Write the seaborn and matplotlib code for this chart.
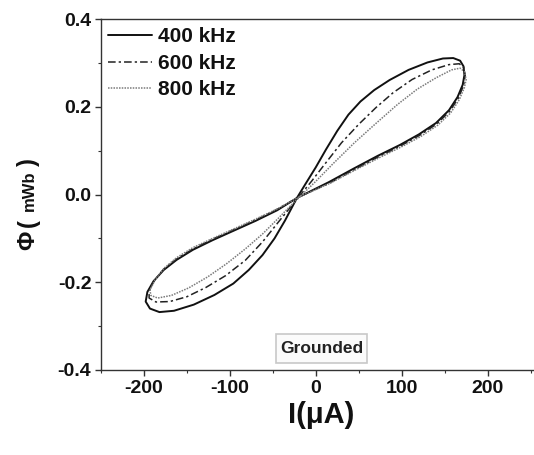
import matplotlib
matplotlib.use("Agg")
import matplotlib.pyplot as plt
import seaborn as sns
import pandas as pd
from matplotlib.ticker import MultipleLocator
from matplotlib.patches import Rectangle

# ---- data ----
I_400 = [-22, -12, 0, 12, 25, 38, 52, 68, 86, 108, 130, 148, 160, 168, 172, 173,
         171, 165, 155, 140, 120, 98, 72, 45, 15, -22,
         -45, -70, -95, -120, -143, -162, -177, -189, -196,
         -198, -193, -182, -165, -142, -118, -96, -78, -62, -48, -36, -22]
Phi_400 = [-0.008, 0.024, 0.062, 0.103, 0.145, 0.182, 0.212, 0.238, 0.261, 0.284, 0.301, 0.310, 0.311, 0.305, 0.292, 0.272,
           0.250, 0.222, 0.192, 0.163, 0.137, 0.113, 0.088, 0.060, 0.028, -0.008,
           -0.036, -0.060, -0.082, -0.104, -0.126, -0.149, -0.172, -0.198, -0.222,
           -0.244, -0.260, -0.268, -0.265, -0.251, -0.229, -0.203, -0.172, -0.138, -0.100, -0.060, -0.008]

I_600 = [-20, -5, 10, 30, 50, 70, 90, 112, 135, 155, 167, 172, 174,
         172, 166, 156, 141, 121, 99, 73, 46, 16, -20,
         -45, -70, -95, -120, -143, -162, -177, -188, -194,
         -194, -186, -170, -150, -128, -105, -82, -62, -44, -30, -20]
Phi_600 = [-0.006, 0.030, 0.068, 0.118, 0.160, 0.198, 0.232, 0.262, 0.284, 0.296, 0.298, 0.290, 0.272,
           0.248, 0.220, 0.190, 0.161, 0.135, 0.111, 0.086, 0.058, 0.026, -0.006,
           -0.034, -0.058, -0.080, -0.102, -0.124, -0.147, -0.170, -0.196, -0.220,
           -0.236, -0.245, -0.244, -0.233, -0.212, -0.185, -0.150, -0.108, -0.064, -0.030, -0.006]

I_800 = [-18, 0, 20, 45, 70, 95, 118, 140, 158, 168, 173, 175,
         173, 167, 157, 142, 122, 100, 74, 47, 17, -18,
         -45, -70, -95, -120, -143, -162, -176, -187, -193,
         -192, -184, -168, -148, -126, -104, -82, -62, -44, -30, -18]
Phi_800 = [-0.004, 0.030, 0.070, 0.118, 0.162, 0.205, 0.240, 0.266, 0.284, 0.288, 0.280, 0.262,
           0.244, 0.216, 0.186, 0.158, 0.132, 0.109, 0.084, 0.057, 0.026, -0.004,
           -0.033, -0.056, -0.078, -0.100, -0.121, -0.144, -0.167, -0.194, -0.218,
           -0.230, -0.236, -0.230, -0.213, -0.188, -0.158, -0.124, -0.090, -0.055, -0.027, -0.004]

series_labels = ["400 kHz", "600 kHz", "800 kHz"]
x_ticks = [-200, -100, 0, 100, 200]
y_ticks = [-0.4, -0.2, 0.0, 0.2, 0.4]

# ---- style ----
sns.set_theme(style="white")
plt.rcParams["font.family"] = ["Liberation Sans", "DejaVu Sans"]
plt.rcParams["font.weight"] = "bold"
plt.rcParams["axes.unicode_minus"] = False

W, H = 534, 455
fig = plt.figure(figsize=(W / 100, H / 100), dpi=100)
ax = fig.add_axes([101 / W, 1 - 370 / H, 1 - 101 / W, (370 - 19) / H])

styles = [
    dict(color="#111111", linestyle="-", linewidth=1.4),
    dict(color="#222222", linestyle=(0, (5, 2, 1.5, 2)), linewidth=1.1),
    dict(color="#7a7a7a", linestyle=(0, (1, 0.8)), linewidth=1.1),
]
data = [(I_400, Phi_400), (I_600, Phi_600), (I_800, Phi_800)]
for (xs, ys), lab, st in zip(data, series_labels, styles):
    df = pd.DataFrame({"I": xs, "Phi": ys})
    sns.lineplot(data=df, x="I", y="Phi", sort=False, estimator=None, ax=ax,
                 label=lab, **st)

ax.set_xlim(-250, 254)
ax.set_ylim(-0.4, 0.4)
ax.set_xticks(x_ticks)
ax.set_yticks(y_ticks)
ax.set_xticklabels([f"{v}" for v in x_ticks])
ax.set_yticklabels([f"{v:.1f}" for v in y_ticks])
ax.xaxis.set_minor_locator(MultipleLocator(50))
ax.yaxis.set_minor_locator(MultipleLocator(0.1))
ax.tick_params(axis="both", which="major", direction="out", length=4, width=1,
               color="#333333", labelsize=14, pad=3, bottom=True, left=True)
ax.tick_params(axis="both", which="minor", direction="out", length=2.5, width=0.8,
               color="#333333", bottom=True, left=True)
for lbl in ax.get_xticklabels() + ax.get_yticklabels():
    lbl.set_fontweight("bold")
    lbl.set_color("#111111")

for side in ["left", "bottom", "top"]:
    ax.spines[side].set_color("#333333")
    ax.spines[side].set_linewidth(1.0)
ax.spines["right"].set_visible(False)

ax.set_xlabel("I(μA)", fontsize=21, fontweight="bold", color="#111111")
ax.xaxis.set_label_coords(0.509, -0.088)
ax.set_ylabel("")

# y label built from pieces (small "mWb" inside big parentheses)
xl = 28 / W
fig.text(xl, 1 - 240 / H, "Φ", rotation=90, ha="center", va="center", fontsize=17, fontweight="bold", color="#111111")
fig.text(xl, 1 - 223 / H, "(", rotation=90, ha="center", va="center", fontsize=17, fontweight="bold", color="#111111")
fig.text(xl + 1 / W, 1 - 191 / H, "mWb", rotation=90, ha="center", va="center", fontsize=12, fontweight="bold", color="#111111")
fig.text(xl, 1 - 162 / H, ")", rotation=90, ha="center", va="center", fontsize=17, fontweight="bold", color="#111111")

leg = ax.legend(loc="upper left", bbox_to_anchor=(0.016, 0.976), frameon=False,
                borderaxespad=0, borderpad=0, handlelength=2.1, handletextpad=0.3,
                labelspacing=0.36, prop={"size": 15, "weight": "bold"})
for t in leg.get_texts():
    t.set_color("#111111")

# "Grounded" annotation with a light box
ax.add_patch(Rectangle((-46, -0.383), 106, 0.066, facecolor="#fbfbfb", edgecolor="#c8c8c8",
                       linewidth=1.2, zorder=3))
ax.text(7, -0.350, "Grounded", ha="center", va="center", fontsize=12.5, fontweight="bold",
        color="#222222", zorder=4)

fig.savefig("out.png", dpi=100, facecolor="white")
